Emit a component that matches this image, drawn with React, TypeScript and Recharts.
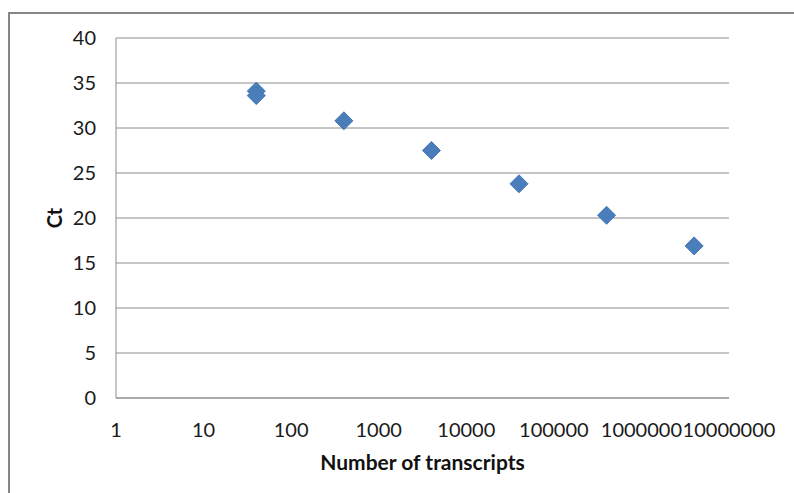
import React from 'react';
import { ScatterChart, Scatter, XAxis, YAxis, CartesianGrid } from 'recharts';

// Standard curve: copies vs Ct
const transcripts = [40, 40, 400, 4000, 40000, 400000, 4000000];
const ctValues = [34.1, 33.6, 30.8, 27.5, 23.8, 20.3, 16.9];
const xTicks = [1, 10, 100, 1000, 10000, 100000, 1000000, 10000000];
const yTicks = [0, 5, 10, 15, 20, 25, 30, 35, 40];

const points = transcripts.map((x, i) => ({ x, y: ctValues[i] }));

const FONT = 'Lato, "Liberation Sans", sans-serif';
const GRID = '#8C8C8C';
const BLUE = '#4A7EBB';

const Diamond = (props: any) => {
    const { cx, cy } = props;
    const r = 9;
    return (
        <polygon
            points={`${cx},${cy - r} ${cx + r},${cy} ${cx},${cy + r} ${cx - r},${cy}`}
            fill={BLUE}
            stroke="#4678B4"
            strokeWidth={1}
        />
    );
};

const App: React.FC = () => {
    return (
        <div style={{ position: 'absolute', left: 0, top: 0, width: 794, height: 493, overflow: 'hidden', background: '#fff' }}>
            <div style={{ position: 'absolute', left: 8, top: 12, width: 820, height: 520, border: '2px solid #868686' }} />
            <div style={{ position: 'absolute', left: 0, top: 0 }}>
                <ScatterChart width={794} height={493} margin={{ top: 38, right: 65, left: 56, bottom: 23 }}>
                    <CartesianGrid horizontal vertical={false} stroke={GRID} strokeWidth={1} />
                    <XAxis
                        type="number"
                        dataKey="x"
                        scale="log"
                        domain={[1, 10000000]}
                        ticks={xTicks}
                        interval={0}
                        height={72}
                        tickLine={false}
                        tickSize={6}
                        tickMargin={19}
                        axisLine={{ stroke: GRID }}
                        tick={{ fill: '#1a1a1a', fontSize: 20, fontFamily: FONT }}
                        label={{ value: 'Number of transcripts', position: 'insideBottom', offset: 0, style: { fontFamily: FONT, fontSize: 21, fontWeight: 700, fill: '#111' } }}
                    />
                    <YAxis
                        type="number"
                        dataKey="y"
                        domain={[0, 40]}
                        ticks={yTicks}
                        interval={0}
                        width={60}
                        tickLine={false}
                        tickSize={6}
                        tickMargin={14}
                        axisLine={{ stroke: GRID }}
                        tick={{ fill: '#1a1a1a', fontSize: 20, fontFamily: FONT }}
                        label={{ value: 'Ct', angle: -90, position: 'insideLeft', offset: -1, style: { textAnchor: 'middle', fontFamily: FONT, fontSize: 20, fontWeight: 700, fill: '#111' } }}
                    />
                    <Scatter data={points} shape={Diamond} isAnimationActive={false} />
                </ScatterChart>
            </div>
        </div>
    );
};

export default App;
